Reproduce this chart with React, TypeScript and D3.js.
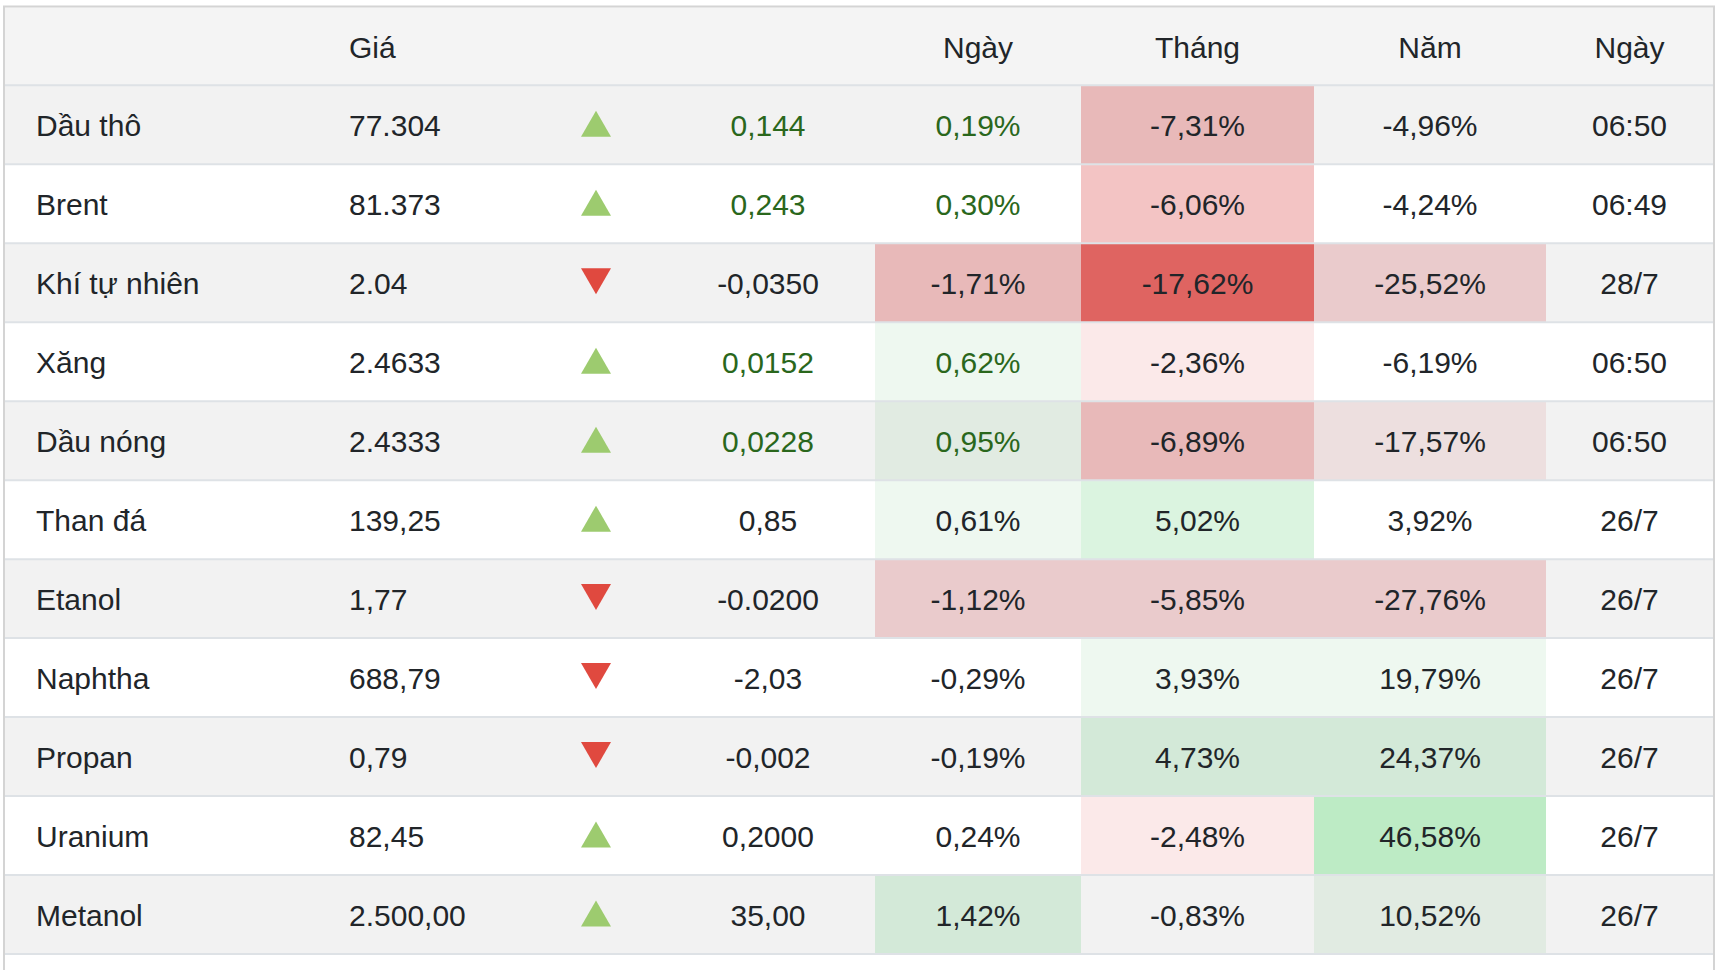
import React from "react";
import * as d3 from "d3";

const headers = ["", "Giá", "", "", "Ngày", "Tháng", "Năm", "Ngày"];
const names = ["Dầu thô", "Brent", "Khí tự nhiên", "Xăng", "Dầu nóng", "Than đá", "Etanol", "Naphtha", "Propan", "Uranium", "Metanol"];
const prices = ["77.304", "81.373", "2.04", "2.4633", "2.4333", "139,25", "1,77", "688,79", "0,79", "82,45", "2.500,00"];
const direction = ["up", "up", "down", "up", "up", "up", "down", "down", "down", "up", "up"];
const changes = ["0,144", "0,243", "-0,0350", "0,0152", "0,0228", "0,85", "-0.0200", "-2,03", "-0,002", "0,2000", "35,00"];
const dayPct = ["0,19%", "0,30%", "-1,71%", "0,62%", "0,95%", "0,61%", "-1,12%", "-0,29%", "-0,19%", "0,24%", "1,42%"];
const monthPct = ["-7,31%", "-6,06%", "-17,62%", "-2,36%", "-6,89%", "5,02%", "-5,85%", "3,93%", "4,73%", "-2,48%", "-0,83%"];
const yearPct = ["-4,96%", "-4,24%", "-25,52%", "-6,19%", "-17,57%", "3,92%", "-27,76%", "19,79%", "24,37%", "46,58%", "10,52%"];
const times = ["06:50", "06:49", "28/7", "06:50", "06:50", "26/7", "26/7", "26/7", "26/7", "26/7", "26/7"];
const greenText = [true, true, false, true, true, false, false, false, false, false, false];
// heat level per cell ("" = no highlight)
const dayHeat = ["", "", "r3", "g0", "g2", "g0", "r2", "", "", "", "g3"];
const monthHeat = ["r3", "r3b", "r4", "r0", "r3", "g1", "r2", "g0", "g3", "r0", ""];
const yearHeat = ["", "", "r2", "", "r1", "", "r2", "g0", "g3", "g4", "g2"];

const heatLevels = ["r4", "r3", "r3b", "r2", "r1", "r0", "g0", "g1", "g2", "g3", "g4"];
const heatColors = ["#df6461", "#e8b9b9", "#f3c4c4", "#eacbcc", "#eddfdf", "#fbe9e9", "#eef8f0", "#dbf4e0", "#e1ebe2", "#d3e9d8", "#bdebc5"];

const W = 1728;
const H = 970;
const colEdges = [5, 317, 531, 661, 875, 1081, 1314, 1546, 1713];
const FONT = "'Liberation Sans', Arial, Helvetica, sans-serif";
const TEXT = "#212529";
const GREEN = "#2a671c";

function triangle(cx: number, cy: number, up: boolean) {
  const w = 30, h = 26;
  const p = d3.path();
  if (up) {
    p.moveTo(cx, cy - h / 2);
    p.lineTo(cx + w / 2, cy + h / 2);
    p.lineTo(cx - w / 2, cy + h / 2);
  } else {
    p.moveTo(cx - w / 2, cy - h / 2);
    p.lineTo(cx + w / 2, cy - h / 2);
    p.lineTo(cx, cy + h / 2);
  }
  p.closePath();
  return p.toString();
}

export default function App() {
  const y = d3.scaleBand<string>().domain(names).range([85.3, 954]).padding(0);
  const heat = d3.scaleOrdinal<string, string>().domain(heatLevels).range(heatColors);
  const bw = y.bandwidth();
  const cx = (i: number) => (colEdges[i] + colEdges[i + 1]) / 2;

  return (
    <svg width={W} height={H} style={{ position: "absolute", left: 0, top: 0, background: "#fff" }}>
      <rect x={5} y={7.5} width={1708} height={78} fill="#f4f4f4" />
      {headers.map((h, i) => (
        <text
          key={"h" + i}
          x={i === 1 ? colEdges[1] + 32 : cx(i)}
          y={58}
          textAnchor={i === 1 ? "start" : "middle"}
          fontFamily={FONT}
          fontSize={30}
          fill={TEXT}
        >
          {h}
        </text>
      ))}
      {names.map((n, r) => {
        const y0 = y(n)!;
        const cy = y0 + bw / 2;
        const base = cy + 11;
        const cells = [dayHeat[r], monthHeat[r], yearHeat[r]];
        const pcts = [dayPct[r], monthPct[r], yearPct[r]];
        const up = direction[r] === "up";
        return (
          <g key={n}>
            <rect x={5} y={y0} width={1708} height={bw} fill={r % 2 === 0 ? "#f2f2f2" : "#ffffff"} />
            {cells.map((c, k) =>
              c ? (
                <rect key={k} x={colEdges[4 + k]} y={y0} width={colEdges[5 + k] - colEdges[4 + k]} height={bw} fill={heat(c)} />
              ) : null
            )}
            <line x1={5} x2={1713} y1={y0} y2={y0} stroke="#dee2e6" strokeWidth={2} />
            <text x={36} y={base} fontFamily={FONT} fontSize={30} fill={TEXT}>{n}</text>
            <text x={colEdges[1] + 32} y={base} fontFamily={FONT} fontSize={30} fill={TEXT}>{prices[r]}</text>
            <path d={triangle(cx(2), up ? cy - 1 : cy - 1.5, up)} fill={up ? "#9dcb6f" : "#e0493f"} />
            <text x={cx(3)} y={base} textAnchor="middle" fontFamily={FONT} fontSize={30} fill={greenText[r] ? GREEN : TEXT}>{changes[r]}</text>
            {pcts.map((p, k) => (
              <text key={"p" + k} x={cx(4 + k)} y={base} textAnchor="middle" fontFamily={FONT} fontSize={30} fill={k === 0 && greenText[r] ? GREEN : TEXT}>{p}</text>
            ))}
            <text x={cx(7)} y={base} textAnchor="middle" fontFamily={FONT} fontSize={30} fill={TEXT}>{times[r]}</text>
          </g>
        );
      })}
      <line x1={5} x2={1713} y1={954} y2={954} stroke="#dee2e6" strokeWidth={2} />
      <line x1={3} x2={1715} y1={6.5} y2={6.5} stroke="#d4d4d4" strokeWidth={2} />
      <line x1={4} x2={4} y1={6} y2={H} stroke="#d4d4d4" strokeWidth={2} />
      <line x1={1714} x2={1714} y1={6} y2={H} stroke="#d4d4d4" strokeWidth={2} />
    </svg>
  );
}
